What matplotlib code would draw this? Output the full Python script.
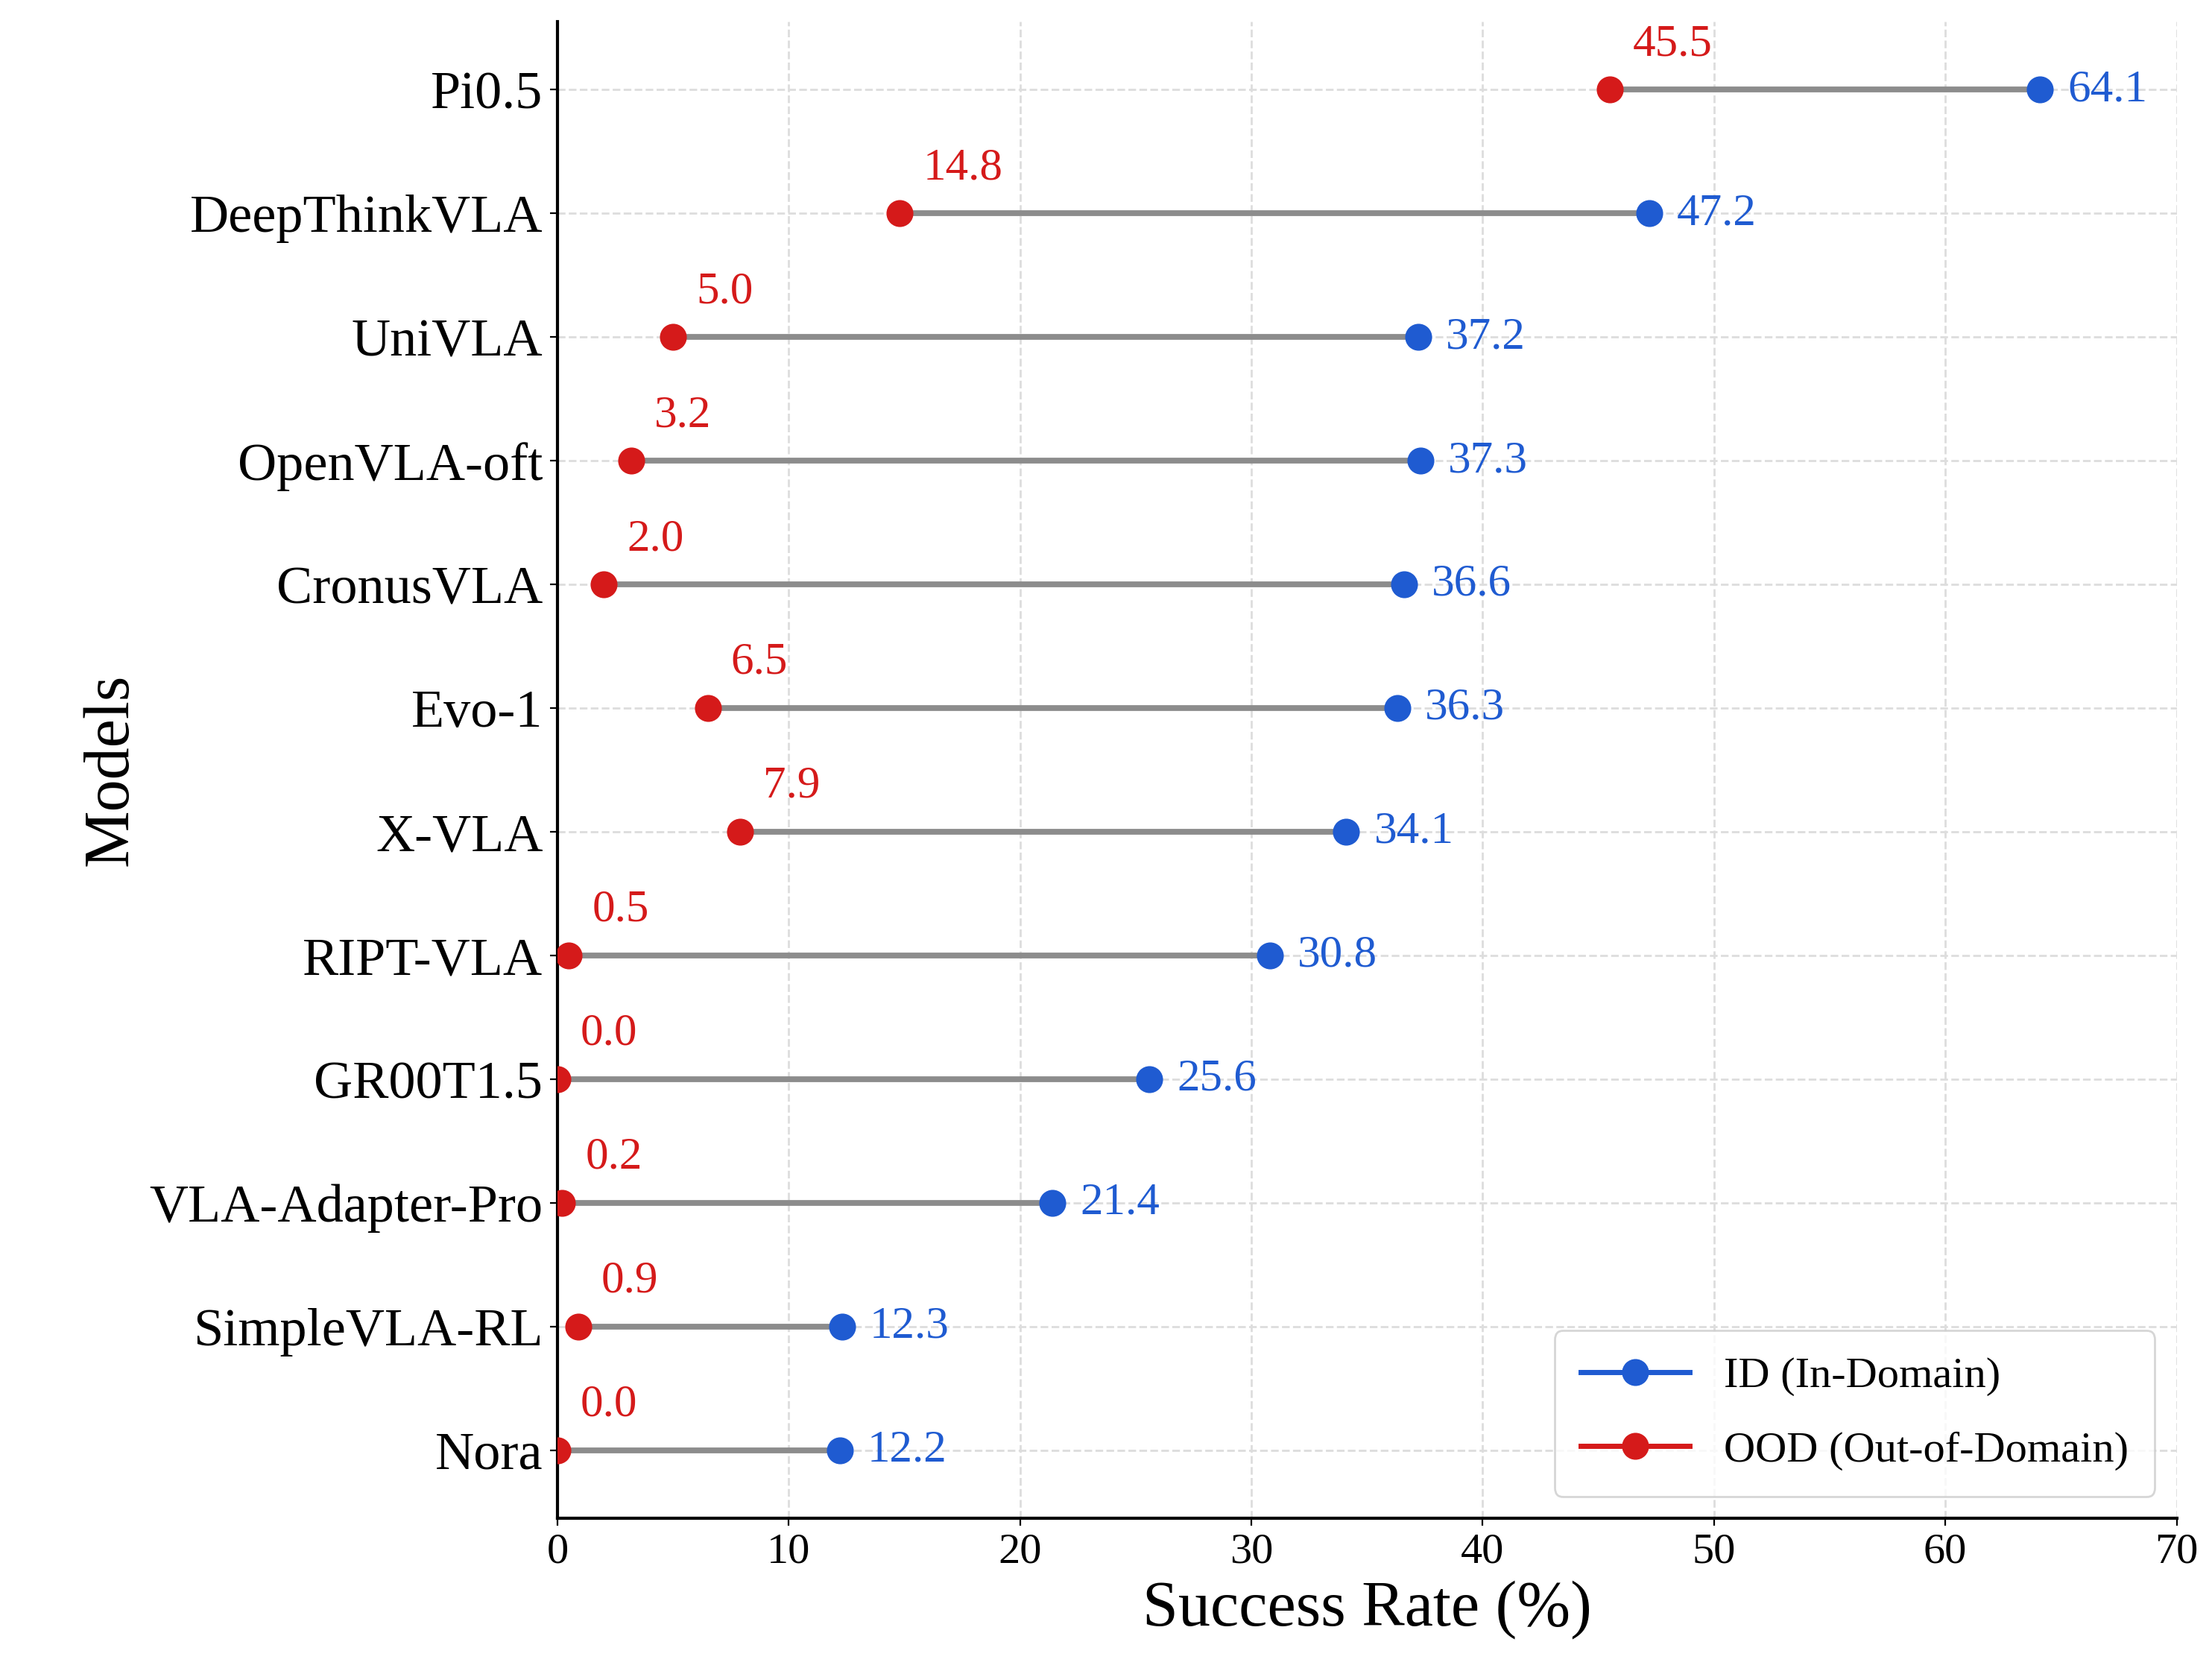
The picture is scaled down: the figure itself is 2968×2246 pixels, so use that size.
import numpy as np
import matplotlib.pyplot as plt
from matplotlib.lines import Line2D

plt.rcParams['font.family'] = ['Liberation Serif', 'DejaVu Serif']

models = ["Pi0.5", "DeepThinkVLA", "UniVLA", "OpenVLA-oft", "CronusVLA", "Evo-1",
          "X-VLA", "RIPT-VLA", "GR00T1.5", "VLA-Adapter-Pro", "SimpleVLA-RL", "Nora"]
id_rate = [64.1, 47.2, 37.2, 37.3, 36.6, 36.3, 34.1, 30.8, 25.6, 21.4, 12.3, 12.2]
ood_rate = [45.5, 14.8, 5.0, 3.2, 2.0, 6.5, 7.9, 0.5, 0.0, 0.2, 0.9, 0.0]

blue = '#1f5bd1'
red = '#d51a1a'

fig, ax = plt.subplots(figsize=(14.84, 11.23), dpi=200)
fig.subplots_adjust(left=0.252, right=0.984, top=0.987, bottom=0.093)

y = np.arange(len(models))[::-1]
for yi, a, b in zip(y, id_rate, ood_rate):
    ax.plot([b, a], [yi, yi], color='#8c8c8c', lw=2.8, zorder=2)
ax.plot(id_rate, y, 'o', color=blue, ms=12, zorder=3)
ax.plot(ood_rate, y, 'o', color=red, ms=12, zorder=3)

for yi, a, b in zip(y, id_rate, ood_rate):
    ax.text(a + 1.2, yi, f"{a:.1f}", color=blue, fontsize=22, va='center', ha='left')
    ax.text(b + 1.0, yi + 0.2, f"{b:.1f}", color=red, fontsize=22, va='bottom', ha='left')

handles = [Line2D([], [], color=blue, marker='o', ms=12, lw=2.5, label='ID (In-Domain)'),
           Line2D([], [], color=red, marker='o', ms=12, lw=2.5, label='OOD (Out-of-Domain)')]
ax.legend(handles=handles, loc='lower right', fontsize=21, frameon=True,
          borderpad=0.6, labelspacing=0.8, handlelength=2.5)

ax.set_yticks(y)
ax.set_yticklabels(models, fontsize=26)
ax.set_xlim(0, 70)
ax.set_ylim(-0.55, len(models) - 0.45)
ax.tick_params(axis='x', labelsize=21)
ax.set_xlabel("Success Rate (%)", fontsize=31)
ax.set_ylabel("Models", fontsize=31)
ax.grid(True, linestyle='--', color='#dddddd', lw=1)
ax.set_axisbelow(True)
ax.spines['top'].set_visible(False)
ax.spines['right'].set_visible(False)
ax.spines['left'].set_linewidth(1.5)
ax.spines['bottom'].set_linewidth(1.5)

plt.savefig('out.png', dpi=200)
